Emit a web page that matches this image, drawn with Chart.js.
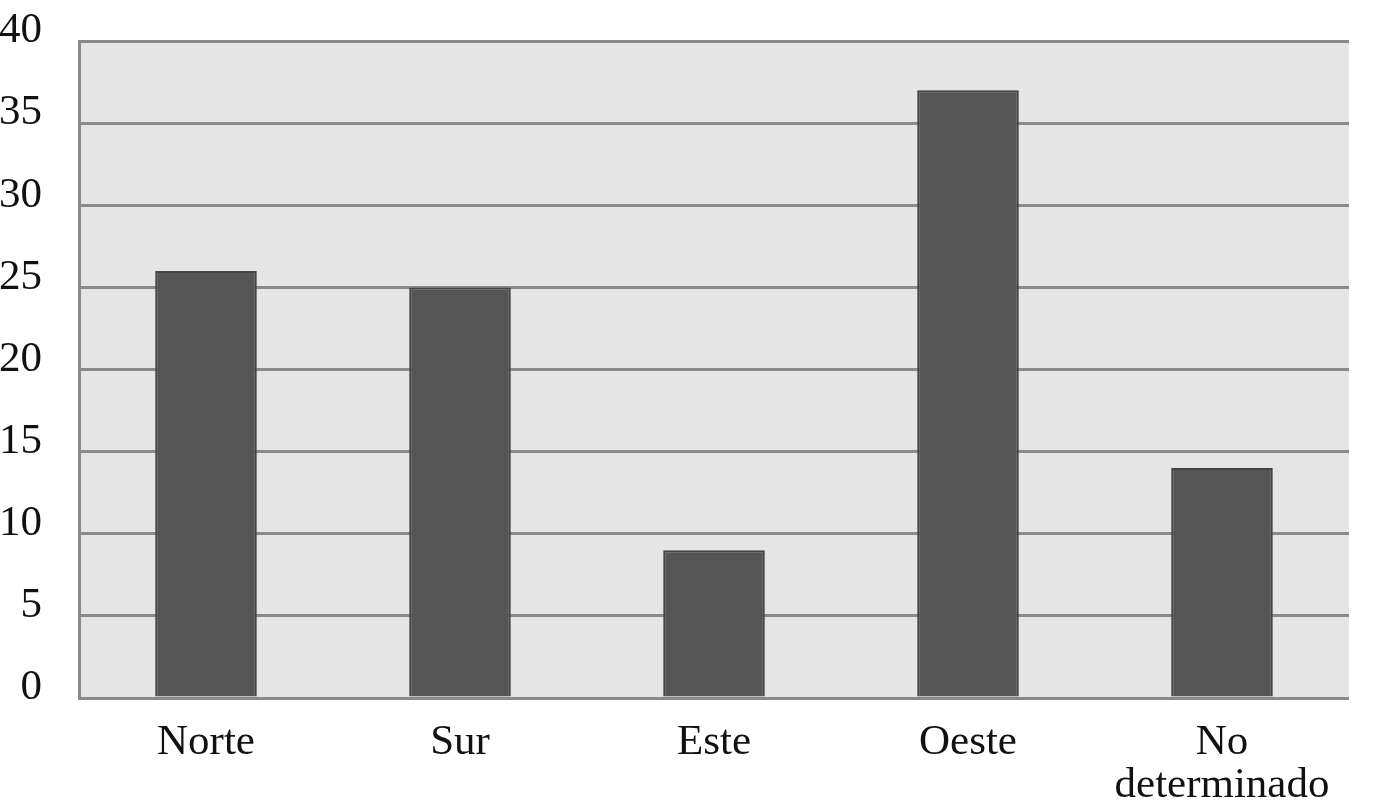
<!DOCTYPE html>
<html>
<head>
<meta charset="utf-8">
<script src="https://cdn.jsdelivr.net/npm/chart.js@4"></script>
<style>
  html, body { margin:0; padding:0; background:#fff; }
  #wrap { width:1383px; height:803px; }
</style>
</head>
<body>
<div id="wrap"><canvas id="chart" width="1383" height="803"></canvas></div>
<script>
// data
const categories = ['Norte', 'Sur', 'Este', 'Oeste', ['No', 'determinado']];
const values = [26, 25, 9, 37, 14];
const yMax = 40;
const yStep = 5;

// grey plot background
const plotBg = {
  id: 'plotBg',
  beforeDraw(chart){
    const a = chart.chartArea, ctx = chart.ctx;
    ctx.save();
    ctx.fillStyle = '#e5e5e5';
    ctx.fillRect(a.left, a.top, a.right - a.left, a.bottom - a.top);
    ctx.restore();
  }
};

const ctx = document.getElementById('chart').getContext('2d');
new Chart(ctx, {
  type: 'bar',
  data: {
    labels: categories,
    datasets: [{
      data: values,
      backgroundColor: '#555555',
      borderColor: '#444444',
      borderWidth: 2,
      barPercentage: 0.4,
      categoryPercentage: 1
    }]
  },
  options: {
    responsive: false,
    animation: false,
    layout: { padding: { top: 41, right: 34, left: 0, bottom: 0 } },
    plugins: { legend: { display: false }, tooltip: { enabled: false } },
    scales: {
      x: {
        grid: { display: false },
        border: { display: false },
        ticks: {
          color: '#111',
          font: { family: 'Liberation Serif', size: 43, lineHeight: 1.0 },
          padding: 15,
          maxRotation: 0
        },
        afterFit(s){ s.height = 105; s.paddingLeft = 0; s.paddingRight = 0; }
      },
      y: {
        min: 0,
        max: yMax,
        grid: { color: '#8a8a8a', lineWidth: 3, drawTicks: false },
        border: { display: true, color: '#8a8a8a', width: 3 },
        ticks: {
          stepSize: yStep,
          color: '#111',
          font: { family: 'Liberation Serif', size: 43 },
          padding: 37,
          labelOffset: -10
        },
        afterFit(s){ s.width = 79; s.paddingTop = 0; s.paddingBottom = 0; }
      }
    }
  },
  plugins: [plotBg]
});
</script>
</body>
</html>
